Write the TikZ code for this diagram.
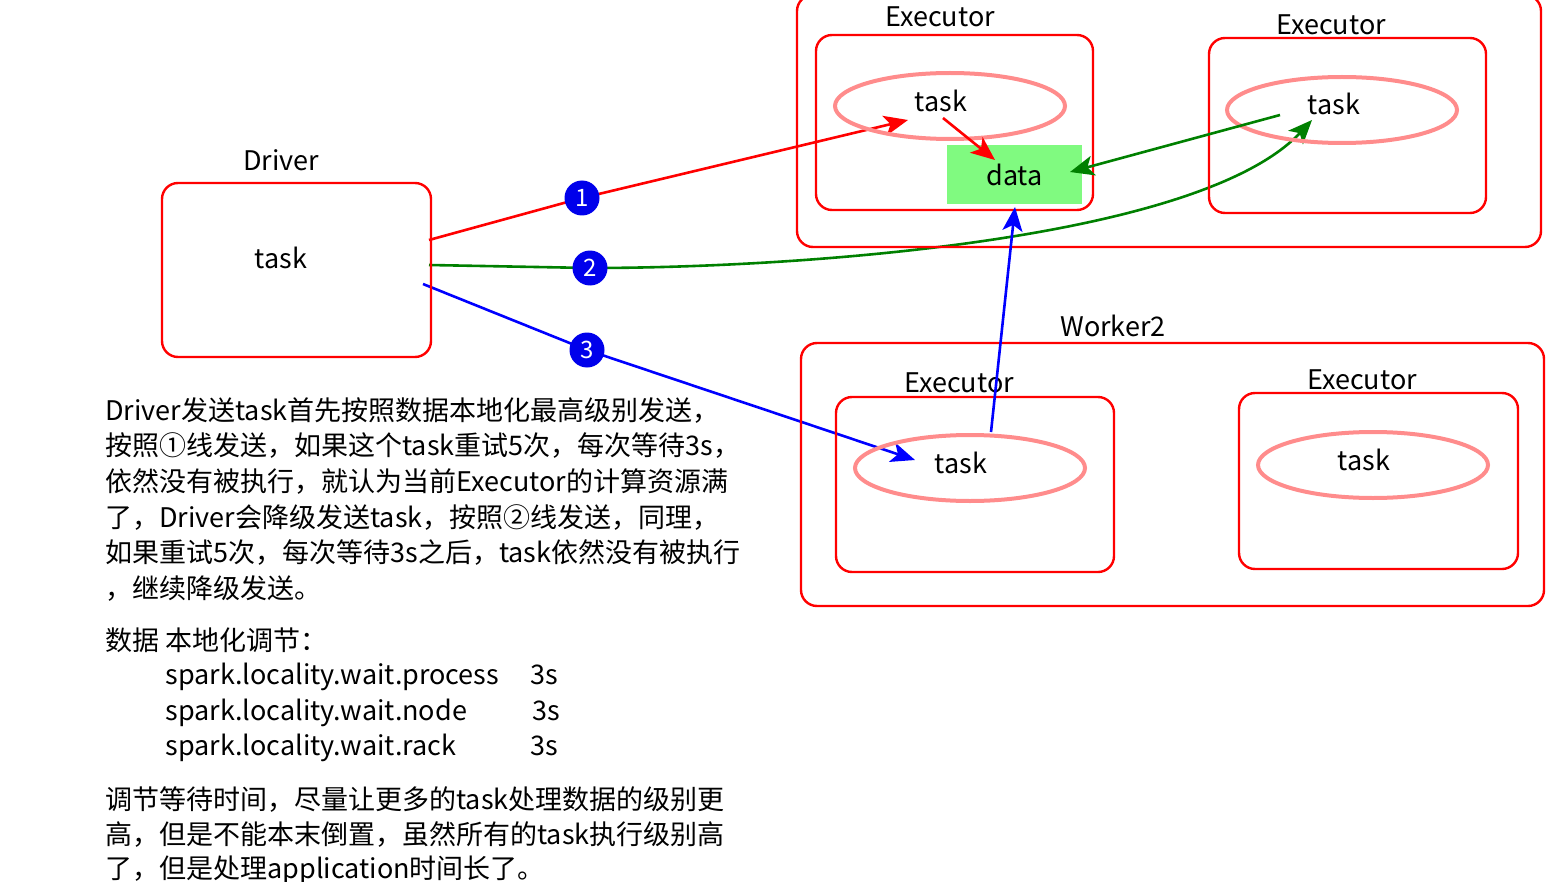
\documentclass[tikz,border=0pt]{standalone}
\usepackage{fontspec}
\setmainfont{Noto Sans CJK SC}
\usetikzlibrary{arrows.meta,shapes.geometric,calc,backgrounds}
\definecolor{pinkred}{RGB}{255,140,140}
\definecolor{datagreen}{RGB}{128,250,128}
\definecolor{dgreen}{RGB}{0,128,0}
\definecolor{numblue}{RGB}{0,0,235}
\begin{document}
\begin{tikzpicture}[x=0.5pt,y=-0.5pt,
  font=\fontsize{13.5pt}{16pt}\selectfont,
  box/.style={draw=red,line width=1.2pt,rounded corners=8pt,rectangle,inner sep=0pt},
  tsk/.style={draw=pinkred,line width=2pt,ellipse,minimum width=115pt,minimum height=33pt,inner sep=0pt},
  lbl/.style={inner sep=0pt},
  num/.style={circle,fill=numblue,text=white,minimum size=17.5pt,inner sep=0pt,font=\fontsize{12pt}{14pt}\selectfont},
  arr/.style={line width=1.3pt,-{Stealth[length=12pt,width=10pt,inset=3pt]}},
  ln/.style={line width=1.3pt},
  txt/.style={anchor=base west,inner sep=0pt}]
\useasboundingbox (0,0) rectangle (1567,882);

% boxes
\node[box,minimum width=372pt,minimum height=126pt] (worker1) at (1169,121) {};
\node[box,minimum width=138.5pt,minimum height=87.5pt] (exec1) at (954.5,122.5) {};
\node[box,minimum width=138.5pt,minimum height=87.5pt] (exec2) at (1347.5,125.5) {};
\node[box,minimum width=134.5pt,minimum height=87pt] (driver) at (296.5,270) {};
\node[box,minimum width=371.5pt,minimum height=131.5pt] (worker2) at (1172.5,474.5) {};
\node[box,minimum width=139pt,minimum height=87.5pt] (exec3) at (975,484.5) {};
\node[box,minimum width=139.5pt,minimum height=88pt] (exec4) at (1378.5,481) {};

% labels
\node[lbl] (lexec1) at (940,17) {Executor};
\node[lbl] (lexec2) at (1331,25) {Executor};
\node[lbl] (ldriver) at (281,160) {Driver};
\node[lbl] (lworker2) at (1113,326) {Worker2};
\node[lbl] (lexec3) at (959,383) {Executor};
\node[lbl] (lexec4) at (1362,380) {Executor};

% task ellipses
\node[tsk] (e1) at (950,106) {};
\node[tsk] (e2) at (1342,110) {};
\node[tsk] (e3) at (970,468) {};
\node[tsk] (e4) at (1373,465) {};
\node[lbl] (t1) at (941,101) {task};
\node[lbl] (t2) at (1334,104) {task};
\node[lbl] (t3) at (961,463) {task};
\node[lbl] (t4) at (1364,460) {task};
\node[lbl] (td) at (281,258) {task};

% data
\node[fill=datagreen,minimum width=67.5pt,minimum height=29.5pt,inner sep=0pt] (data) at (1014.5,174.5) {data};

% circles
\node[num] (c1) at (582,198) {1};
\node[num] (c2) at (590,268) {2};
\node[num] (c3) at (587,350) {3};

% free ends
\coordinate (r1s) at (429,240);
\coordinate (r1e) at (908,120);
\coordinate (r2s) at (943,118);
\coordinate (r2e) at (995,160);
\coordinate (g1s) at (429,265);
\coordinate (g1e) at (1312,120);
\coordinate (g2s) at (1280,115);
\coordinate (g2e) at (1070,172);
\coordinate (b1s) at (423,284);
\coordinate (b1e) at (915,460);
\coordinate (b2s) at (991,432);
\coordinate (b2e) at (1015,207);

\begin{scope}[on background layer]
\draw[ln,red] (r1s) -- (c1.center);
\draw[arr,red] (c1.center) -- (r1e);
\draw[ln,dgreen] (g1s) -- (c2.center);
\draw[arr,dgreen] (c2.center) .. controls (800,268) and (1200,240) .. (g1e);
\draw[ln,blue] (b1s) -- (c3.center);
\draw[arr,blue] (c3.center) -- (b1e);
\end{scope}
\draw[arr,red] (r2s) -- (r2e);
\draw[arr,dgreen] (g2s) -- (g2e);
\draw[arr,blue] (b2s) -- (b2e);

% text
\node[txt] (l1) at (105,420) {Driver发送task首先按照数据本地化最高级别发送，};
\node[txt] (l2) at (105,455) {按照①线发送，如果这个task重试5次，每次等待3s，};
\node[txt] (l3) at (105,491) {依然没有被执行，就认为当前Executor的计算资源满};
\node[txt] (l4) at (105,527) {了，Driver会降级发送task，按照②线发送，同理，};
\node[txt] (l5) at (105,562) {如果重试5次，每次等待3s之后，task依然没有被执行};
\node[txt] (l6) at (105,598) {，继续降级发送。};
\node[txt] (l7) at (105,650) {数据 本地化调节：};
\node[txt] (l8) at (165,684) {spark.locality.wait.process};
\node[txt] (l8v) at (530,684) {3s};
\node[txt] (l9) at (165,720) {spark.locality.wait.node};
\node[txt] (l9v) at (532,720) {3s};
\node[txt] (l10) at (165,755) {spark.locality.wait.rack};
\node[txt] (l10v) at (530,755) {3s};
\node[txt] (l11) at (105,809) {调节等待时间，尽量让更多的task处理数据的级别更};
\node[txt] (l12) at (105,844) {高，但是不能本末倒置，虽然所有的task执行级别高};
\node[txt] (l13) at (105,878) {了，但是处理application时间长了。};
\end{tikzpicture}
\end{document}
